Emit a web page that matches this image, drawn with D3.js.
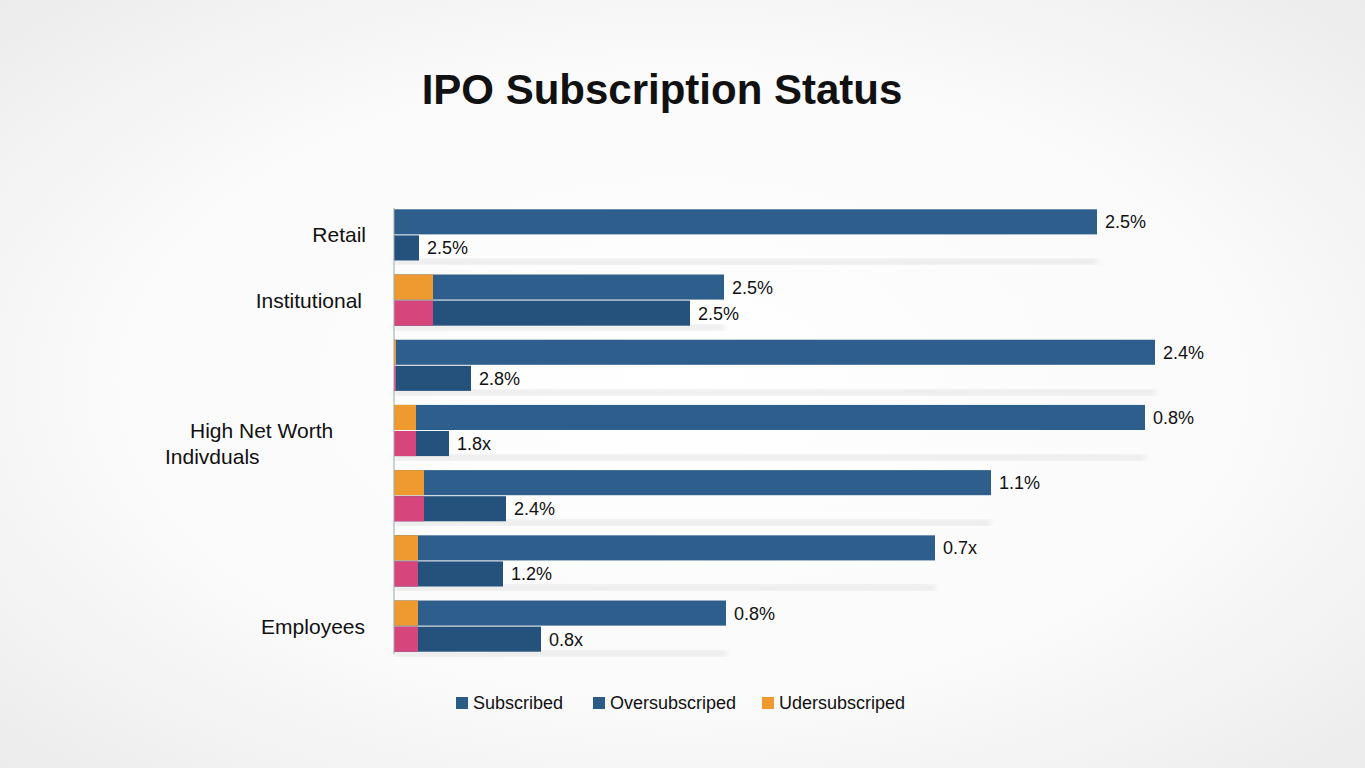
<!DOCTYPE html>
<html><head><meta charset="utf-8">
<script src="https://cdn.jsdelivr.net/npm/d3@7/dist/d3.min.js"></script>
<style>body{margin:0;overflow:hidden;font-family:"Liberation Sans",Arial,sans-serif;}</style>
</head><body><div id="chart"></div>
<script>
// chart data
var groups = ["g1","g2","g3","g4","g5","g6","g7"];
var topValues = [703, 330, 761, 751, 597, 541, 332];
var bottomValues = [25, 296, 77, 55, 112, 109, 147];
var underValues = [0, 39, 2, 22, 30, 24, 24];
var topLabels = ["2.5%","2.5%","2.4%","0.8%","1.1%","0.7x","0.8%"];
var bottomLabels = ["2.5%","2.5%","2.8%","1.8x","2.4%","1.2%","0.8x"];
var categoryLabels = [
  {text: ["Retail"], group: 0, x: [366], anchor: "end"},
  {text: ["Institutional"], group: 1, x: [362], anchor: "end"},
  {text: ["High Net Worth", "Indivduals"], group: 3, x: [190, 165], anchor: "start"},
  {text: ["Employees"], group: 6, x: [365], anchor: "end"}
];
var legendItems = ["Subscribed", "Oversubscriped", "Udersubscriped"];
var legendColors = ["#2c5b86", "#2c5b86", "#ee9a2e"];

var W = 1365, H = 768;
var svg = d3.select("#chart").append("svg").attr("width", W).attr("height", H);
var defs = svg.append("defs");
var grad = defs.append("radialGradient").attr("id", "bg").attr("cx", "50%").attr("cy", "50%").attr("r", "70%");
grad.append("stop").attr("offset", "0%").attr("stop-color", "#ffffff");
grad.append("stop").attr("offset", "60%").attr("stop-color", "#fafafa");
grad.append("stop").attr("offset", "100%").attr("stop-color", "#ececec");
defs.append("filter").attr("id", "blur").append("feGaussianBlur").attr("stdDeviation", 3);
svg.append("rect").attr("width", W).attr("height", H).attr("fill", "url(#bg)");

svg.append("text").attr("x", 662).attr("y", 104).attr("text-anchor", "middle")
  .style("font-size", "42px").style("font-weight", "bold").style("fill", "#111")
  .text("IPO Subscription Status");

var x = d3.scaleLinear().domain([0, 800]).range([394, 1194]);
var y = d3.scaleBand().domain(groups).range([208, 654]).paddingInner(0.2).paddingOuter(0.02);
var barH = y.bandwidth() / 2;

var g = svg.selectAll(".grp").data(groups).enter().append("g")
  .attr("transform", function(d) { return "translate(0," + y(d) + ")"; });

// shadows
g.append("rect").attr("x", x(0)).attr("y", barH * 2 - 2)
  .attr("width", function(d, i) { return x(topValues[i]) - x(0); }).attr("height", 5)
  .attr("fill", "#d8d8d8").attr("filter", "url(#blur)").attr("opacity", 0.7);

g.append("rect").attr("x", x(0)).attr("y", 0)
  .attr("width", function(d, i) { return x(topValues[i]) - x(0); })
  .attr("height", barH - 1).attr("fill", "#2e5f8c");
g.append("rect").attr("x", x(0)).attr("y", barH)
  .attr("width", function(d, i) { return x(bottomValues[i]) - x(0); })
  .attr("height", barH - 1).attr("fill", "#24527d");
g.append("rect").attr("x", x(0)).attr("y", 0)
  .attr("width", function(d, i) { return x(underValues[i]) - x(0); })
  .attr("height", barH - 1).attr("fill", "#ee9a2e");
g.append("rect").attr("x", x(0)).attr("y", barH)
  .attr("width", function(d, i) { return x(underValues[i]) - x(0); })
  .attr("height", barH - 1).attr("fill", "#d6457c");

g.append("text").attr("x", function(d, i) { return x(topValues[i]) + 8; })
  .attr("y", barH / 2 + 6).style("font-size", "18px").style("fill", "#111")
  .text(function(d, i) { return topLabels[i]; });
g.append("text").attr("x", function(d, i) { return x(bottomValues[i]) + 8; })
  .attr("y", barH * 1.5 + 6).style("font-size", "18px").style("fill", "#111")
  .text(function(d, i) { return bottomLabels[i]; });

svg.append("line").attr("x1", x(0)).attr("x2", x(0)).attr("y1", 208).attr("y2", 654)
  .attr("stroke", "#9aa").attr("stroke-width", 1);

categoryLabels.forEach(function(c) {
  var cy = y(groups[c.group]) + barH;
  var t = svg.append("text").attr("text-anchor", c.anchor).style("font-size", "21px").style("fill", "#111");
  c.text.forEach(function(line, k) {
    t.append("tspan").attr("x", c.x[k]).attr("y", cy + 7 + k * 26).text(line);
  });
});

var lg = svg.append("g").attr("transform", "translate(456,703)");
var offs = [0, 137, 306];
legendItems.forEach(function(t, i) {
  lg.append("rect").attr("x", offs[i]).attr("y", -6).attr("width", 12).attr("height", 12).attr("fill", legendColors[i]);
  lg.append("text").attr("x", offs[i] + 17).attr("y", 6).style("font-size", "18px").style("fill", "#111").text(t);
});
</script></body></html>
